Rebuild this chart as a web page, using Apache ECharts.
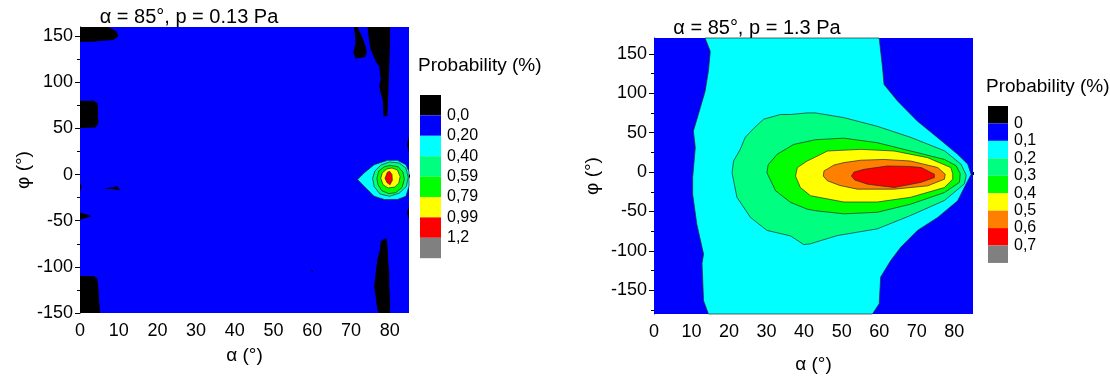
<!DOCTYPE html>
<html>
<head>
<meta charset="utf-8">
<script src="https://cdn.jsdelivr.net/npm/echarts@6/dist/echarts.min.js"></script>
<style>
  html, body { margin: 0; padding: 0; background: #fff; }
  #main { width: 1110px; height: 379px; }
</style>
</head>
<body>
<div id="main"></div>
<script>
// tick values
var alphaTicks = [0, 10, 20, 30, 40, 50, 60, 70, 80];
var alphaMinor = [5, 15, 25, 35, 45, 55, 65, 75, 85];
var phiTicks = [-150, -100, -50, 0, 50, 100, 150];
var leftPhiMinor = [-125, -75, -25, 25, 75, 125];
var rightPhiMinor = [-175, -125, -75, -25, 25, 75, 125];

// colour bar labels
var leftLevels = ['0,0', '0,20', '0,40', '0,59', '0,79', '0,99', '1,2'];
var rightLevels = ['0', '0,1', '0,2', '0,3', '0,4', '0,5', '0,6', '0,7'];
var leftColors = ['#000000', '#0000ff', '#00ffff', '#00ff80', '#00ff00', '#ffff00', '#ff0000', '#808080'];
var rightColors = ['#000000', '#0000ff', '#00ffff', '#00ff80', '#00ff00', '#ffff00', '#ff8000', '#ff0000', '#808080'];

// ---- left plot (p = 0.13 Pa), contour regions as [alpha, phi] ----
var lBase = [[0, -150], [85, -150], [85, 160], [0, 160]];
var lBlackTopLeft = [[0, 160], [7.3, 160], [9.5, 155], [9.9, 150], [8.6, 146], [6, 145], [3, 144], [0, 144]];
var lBlackMidLeft = [[0, 80], [3.5, 80], [4.6, 77], [4.7, 55], [4, 51], [0, 50.5]];
var lBlackSliver = [[6, -15.6], [9.5, -12.5], [10.5, -17], [8, -15.5]];
var lBlackEdge1 = [[0, -9], [0.4, -13], [0, -18]];
var lBlackEdge2 = [[0, -41], [1.5, -43], [3, -45], [1.5, -47], [0, -49]];
var lBlackBotLeft = [[0, -110], [3.5, -110], [4.5, -113], [4.8, -125], [5, -140], [5.2, -150], [0, -150]];
var lBlackTopRight = [[74.3, 160], [74.6, 148], [75.1, 135.5], [76.5, 122], [77.3, 117.5], [77.7, 103], [77.3, 95.8],
  [77.9, 85], [78.2, 81.3], [78.4, 63.2], [79.4, 63.2], [79.6, 81.3], [79.9, 117.5], [80.1, 145], [80.1, 160]];
var lBlackTopPiece = [[70.8, 160], [71.7, 160], [73, 148.2], [73.8, 139.2], [74.1, 132], [73.6, 127.6], [71.2, 125.5],
  [70.6, 132], [71.2, 142.8], [71, 151.8]];
var lBlackBotRight = [[79, -68.7], [77.7, -72.3], [77.5, -81.3], [76.8, -92.2], [76.4, -106.6], [76, -121.1], [76.4, -132],
  [76.8, -146.4], [77.3, -150], [80.1, -150], [80.1, -135.6], [79.9, -121.1], [79.9, -106.6], [79.6, -92.2], [79.5, -81.3], [79.3, -72]];
var lBlackRight1 = [[85, 41.5], [84.5, 33], [85, 23.5]];
var lBlackRight2 = [[85, -34.4], [84.5, -41], [85, -48.8]];
var lBlackDot = [[59.7, -104], [60.3, -104.5], [60, -106]];
var lCyan = [[71.7, -5.4], [73.4, 1.8], [76, 10.8], [79.5, 15.5], [82, 15.5], [84.2, 10.8], [85, 3], [85, -12.7],
  [84.2, -23.5], [82, -27], [78.6, -27], [76, -23.5], [73.4, -12.7]];
var lSpring = [[75.6, -4], [76.2, 4], [77.8, 10.5], [80, 13.7], [82.5, 12.5], [84.2, 7], [84.8, -3], [84.3, -13],
  [82.5, -20], [80, -23.5], [77.5, -21], [76, -13]];
var lGreen = [[76.7, -4], [77.2, 4], [78.6, 8.5], [80.2, 10], [82.2, 8.5], [83.4, 3], [83.8, -5], [83.2, -14],
  [81.6, -19.5], [79.8, -20.6], [78, -17.5], [77, -11]];
var lYellow = [[77.7, -4], [78.1, 2], [79.3, 6.2], [80.6, 7.2], [82, 5], [82.7, -2], [82.4, -9], [81.3, -13.5],
  [79.6, -14.5], [78.3, -11]];
var lRed = [[78.8, -4], [79.4, 2.5], [80, 3.6], [80.6, 0], [80.7, -6], [80.1, -11], [79.3, -8.5]];

// ---- right plot (p = 1.3 Pa) ----
var rBase = [[0, -180], [85, -180], [85, 170], [0, 170]];
var rCyan = [[13.6, 170], [15, 153], [14.5, 128], [13.6, 102], [12.3, 81], [10.5, 52], [11, 31], [10.3, -7], [10.3, -28],
  [11.4, -66], [13.2, -104], [12.8, -116], [13.2, -163], [14.5, -180],
  [58.2, -180], [60, -167], [60.4, -133], [63.1, -112], [65.8, -95], [70.2, -74], [75.6, -57.5], [80.9, -36.5],
  [83.6, -11], [84.5, -3], [83.6, 10], [80.9, 22.5], [75.6, 43.5], [70.2, 64.5], [64.9, 90], [61.3, 111], [60.9, 132], [60, 170]];
var rSpring = [[20.8, -1], [21.2, 14], [23, 29], [24.3, 44], [26.5, 55], [29.2, 67], [33.7, 73], [36.4, 73], [40.8, 75],
  [43, 75], [50.6, 69], [59.5, 58], [68.4, 44], [77.4, 27], [81.8, 10], [83.2, -4], [82.7, -15], [77.4, -36],
  [68.4, -55], [59.5, -72], [48.8, -80.6], [43, -89], [41.7, -91], [39.9, -92], [36.4, -81], [30.1, -74], [25.7, -57.5], [22.1, -32]];
var rGreen = [[30.1, -1], [30.4, 9], [32.8, 22.5], [37.2, 35], [43, 41], [50.6, 43], [59.5, 37.2], [68.4, 26.7], [77.4, 16],
  [80.5, 8], [81.6, -2], [81.4, -13], [77.4, -26], [68.4, -40.7], [59.5, -51], [50.6, -53], [43, -49], [40.8, -47],
  [36.4, -38.5], [32.4, -23.8]];
var rYellow = [[37.7, -5], [38.2, 5.7], [40.8, 14], [43, 19], [46.2, 26.7], [55.1, 28.8], [64, 26.7], [72.9, 18.3],
  [79.1, 5.7], [79.6, -2], [79.6, -9], [77.4, -19.6], [68.4, -32], [59.5, -38], [50.6, -38], [41.7, -30], [39, -19.6]];
var rOrange = [[45.1, -5], [45.3, 1.4], [48, 9], [50.6, 12], [55.1, 15], [61.3, 16], [68.4, 14], [75.6, 5.7], [77.6, -2.8],
  [77.4, -9], [72.9, -17.5], [64, -21.7], [54.2, -21.7], [49.5, -17], [46.2, -11]];
var rRed = [[52.6, -5], [53.3, 0], [56, 3.5], [62.2, 7.7], [68, 7.2], [71.2, 5.7], [74.7, -2.8], [74.7, -7], [71.2, -13],
  [64, -19.6], [56.9, -15.4], [53.5, -10]];

// band = index into the colour list
var leftRegions = [
  { band: 1, pts: lBase },
  { band: 0, pts: lBlackTopLeft }, { band: 0, pts: lBlackMidLeft }, { band: 0, pts: lBlackSliver },
  { band: 0, pts: lBlackEdge1 }, { band: 0, pts: lBlackEdge2 }, { band: 0, pts: lBlackBotLeft },
  { band: 0, pts: lBlackTopRight }, { band: 0, pts: lBlackTopPiece }, { band: 0, pts: lBlackBotRight },
  { band: 0, pts: lBlackRight1 }, { band: 0, pts: lBlackRight2 }, { band: 0, pts: lBlackDot },
  { band: 2, pts: lCyan }, { band: 3, pts: lSpring }, { band: 4, pts: lGreen },
  { band: 5, pts: lYellow }, { band: 6, pts: lRed }
];
var rightRegions = [
  { band: 1, pts: rBase }, { band: 2, pts: rCyan }, { band: 3, pts: rSpring }, { band: 4, pts: rGreen },
  { band: 5, pts: rYellow }, { band: 6, pts: rOrange }, { band: 7, pts: rRed }
];

var FONT = 'Liberation Sans, Arial, sans-serif';

function contourSeries(regions, colors, idx) {
  return {
    type: 'custom',
    coordinateSystem: 'cartesian2d',
    xAxisIndex: idx * 2,
    yAxisIndex: idx * 2,
    silent: true,
    animation: false,
    data: regions.map(function (r, i) { return [r.pts[0][0], r.pts[0][1], i]; }),
    renderItem: function (params, api) {
      var r = regions[params.dataIndex];
      var points = r.pts.map(function (p) { return api.coord(p); });
      return {
        type: 'polygon',
        shape: { points: points },
        style: {
          fill: colors[r.band],
          stroke: r.band >= 2 ? '#2a2a2a' : null,
          lineWidth: r.band >= 2 ? 0.7 : 0
        }
      };
    }
  };
}

function majorX(grid, nameGap) {
  return {
    type: 'value', gridIndex: grid, position: 'bottom', min: 0, max: 85,
    name: 'α (°)', nameLocation: 'middle', nameGap: nameGap,
    nameTextStyle: { fontFamily: FONT, fontSize: 19, color: '#000' },
    axisLine: { show: true, lineStyle: { color: '#000', width: 1 } },
    axisTick: { show: true, customValues: alphaTicks, length: 5, lineStyle: { color: '#000' } },
    axisLabel: { customValues: alphaTicks, fontFamily: FONT, fontSize: 18, color: '#000', margin: 9 },
    splitLine: { show: false }
  };
}
function minorX(grid) {
  return {
    type: 'value', gridIndex: grid, position: 'bottom', min: 0, max: 85,
    axisLine: { show: false },
    axisTick: { show: true, customValues: alphaMinor, length: 3, lineStyle: { color: '#000' } },
    axisLabel: { show: false },
    splitLine: { show: false }
  };
}
function majorY(grid, min, max, nameGap) {
  return {
    type: 'value', gridIndex: grid, position: 'left', min: min, max: max,
    name: 'φ (°)', nameLocation: 'middle', nameGap: nameGap, nameRotate: 90,
    nameTextStyle: { fontFamily: FONT, fontSize: 19, color: '#000' },
    axisLine: { show: true, lineStyle: { color: '#000', width: 1 } },
    axisTick: { show: true, customValues: phiTicks, length: 5, lineStyle: { color: '#000' } },
    axisLabel: { customValues: phiTicks, fontFamily: FONT, fontSize: 18, color: '#000', margin: 7 },
    splitLine: { show: false }
  };
}
function minorY(grid, min, max, minor) {
  return {
    type: 'value', gridIndex: grid, position: 'left', min: min, max: max,
    axisLine: { show: false },
    axisTick: { show: true, customValues: minor, length: 3, lineStyle: { color: '#000' } },
    axisLabel: { show: false },
    splitLine: { show: false }
  };
}

function colorBar(x, top, w, h, colors, labels, title, titleY) {
  var els = [{
    type: 'text', left: x - 2, top: titleY - 11,
    style: { text: title, fontFamily: FONT, fontSize: 19, fill: '#000' }
  }];
  colors.forEach(function (c, i) {
    els.push({ type: 'rect', shape: { x: x, y: top + i * h, width: w, height: h }, style: { fill: c } });
  });
  labels.forEach(function (t, i) {
    els.push({
      type: 'text', x: x + w + 6, y: top + (i + 1) * h,
      style: { text: t, fontFamily: FONT, fontSize: 16, fill: '#000', textVerticalAlign: 'middle' }
    });
  });
  return els;
}

var chart = echarts.init(document.getElementById('main'));
var graphics = []
  .concat([
    { type: 'text', x: 189, y: 17, style: { text: 'α = 85°, p = 0.13 Pa', fontFamily: FONT, fontSize: 20, fill: '#000', textAlign: 'center', textVerticalAlign: 'middle' } },
    { type: 'text', x: 757, y: 28, style: { text: 'α = 85°, p = 1.3 Pa', fontFamily: FONT, fontSize: 20, fill: '#000', textAlign: 'center', textVerticalAlign: 'middle' } }
  ])
  .concat(colorBar(420, 95, 21, 20.4, leftColors, leftLevels, 'Probability (%)', 67))
  .concat(colorBar(988, 106, 20, 17.44, rightColors, rightLevels, 'Probability (%)', 88));

chart.setOption({
  animation: false,
  backgroundColor: '#fff',
  grid: [
    { left: 80, top: 27, width: 329, height: 286 },
    { left: 654, top: 38, width: 319, height: 277 }
  ],
  xAxis: [majorX(0, 33), minorX(0), majorX(1, 41), minorX(1)],
  yAxis: [
    majorY(0, -150, 160, 47), minorY(0, -150, 160, leftPhiMinor),
    majorY(1, -180, 170, 52), minorY(1, -180, 170, rightPhiMinor)
  ],
  series: [
    contourSeries(leftRegions, leftColors, 0),
    contourSeries(rightRegions, rightColors, 1)
  ],
  graphic: graphics
});
</script>
</body>
</html>
